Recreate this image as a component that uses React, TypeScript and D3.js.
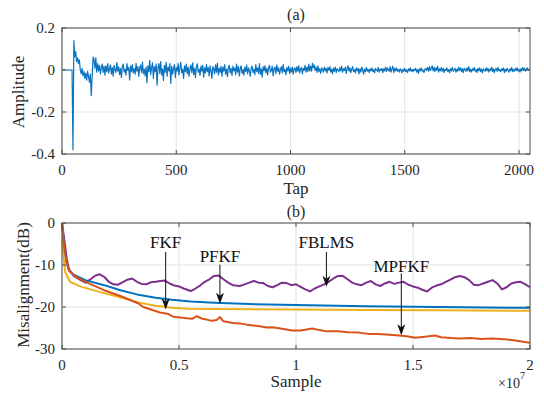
import React from "react";
import * as d3 from "d3";

// (a) impulse response, one value every 4 taps, in 1/1000 units
const tapStep = 4;
const amp = [
  0, 0, 0, 0, 0, 0, 0, 0, 0, 0, 0, 0, -380, 140, 62, 88,
  40, 58, 30, 48, 2, -18, 8, -28, -8, -40, -15, -48, -6, -30, -58, -20,
  -122, -30, 62, 50, 8, 58, -10, 30, -4, 22, -18, 12, 28, -12, 18, -25,
  20, -8, 30, -15, 5, 25, -20, 12, -30, 22, 2, -12, 35, -5, 15, -22,
  8, -35, 18, 28, -10, 4, -25, 30, -2, 12, -48, 20, -8, 26, -14, 6,
  -20, 32, -6, 16, -30, 10, 24, -12, 38, -18, 4, -28, 14, -60, 20, -8,
  46, -22, 10, 34, -40, 16, -8, 28, -72, 12, 30, -16, 40, -24, 6, -50,
  22, -10, 36, -30, 14, -4, 30, -64, 18, -20, 8, 26, -36, 12, -6, 32,
  -24, 10, 38, -14, 4, -40, 20, -8, 28, -18, 14, -30, 6, 24, -12, 34,
  -22, 8, -36, 16, 30, -10, 4, -26, 18, -6, 22, -34, 10, -14, 26, -8,
  12, -28, 20, -4, -40, 16, 6, -18, 24, -10, 32, -24, 8, -12, 18, -30,
  14, -6, 26, -20, 4, -32, 12, 22, -14, 8, -26, 18, -4, 10, -22, 28,
  -10, 16, -28, 6, 20, -16, 2, -24, 14, -8, 24, -18, 10, -6, -30, 12,
  18, -12, 4, -22, 26, -8, 10, -16, 30, -20, 6, -34, 16, -4, 20, -14,
  8, -24, 12, 22, -10, -2, 18, -28, 6, 14, -18, 24, -6, 10, -20, 4,
  16, -14, 26, -8, 2, -22, 12, -4, 18, -16, 8, -10, 14, -20, 6, 10,
  -12, 16, -6, 20, -14, 4, 12, -18, 8, -2, 22, -10, 14, -8, 28, -4,
  18, -6, 32, 10, 24, -2, 14, -12, 20, -8, 6, -16, 10, 2, -10, 14,
  -4, 8, -14, 12, -2, 16, -10, 4, -18, 10, -6, 14, -12, 6, 0, -8,
  12, -4, 18, -10, 6, -2, 14, -16, 8, 20, -6, 10, -12, 4, 16, -8,
  2, -14, 10, -4, 8, -18, 6, -10, 14, -2, -20, 4, -8, 12, -6, 2,
  -12, 6, -4, 10, -8, 2, -14, 8, 0, -6, 12, -10, 4, -2, 8, -12,
  6, -4, 14, -8, 10, 2, -6, 16, -10, 4, 18, -12, 8, -4, 10, -6,
  2, -10, 6, -2, -14, 4, -6, 8, -8, 0, -12, 6, -4, 10, -6, 2,
  -8, 4, -2, 8, -10, 2, -16, 6, -4, 10, -6, 0, -12, 4, 8, -2,
  12, -6, 16, -2, 8, 20, -4, 14, -8, 10, -2, 18, -10, 6, -4, 12,
  -6, 8, -12, 4, -2, 10, -8, 2, -14, 6, -4, 12, -6, 0, 8, -10,
  4, -6, 14, -2, 10, -8, 6, -12, 8, 2, -6, 10, -4, 16, -8, 4,
  -10, 6, -2, 12, -6, 2, -12, 8, -4, 10, -8, 4, -14, 6, 0, -6,
  10, -4, 8, -10, 4, -2, 14, -8, 6, -12, 2, 8, -6, 12, -4, 2,
  -8, 6, -2, 10, -12, 4, -6, 8, 0, -10, 6, -4, 12, -8, 2, -6,
  8, -2, 10, -6, 4, -10, 6, -4, 12, -2, 8, -6, 4, 10, -2, 6,
];
const tapTicks = [0, 500, 1000, 1500, 2000];
const ampTicks = [0.2, 0, -0.2, -0.4];

// (b) misalignment, sample in units of 1e7
const fblmsX = [
  0, 0.01, 0.02, 0.03, 0.05, 0.08, 0.1, 0.12, 0.14, 0.16, 0.18, 0.2, 0.22, 0.24, 0.26, 0.28,
  0.3, 0.32, 0.34, 0.36, 0.38, 0.4, 0.42, 0.44, 0.46, 0.48, 0.5, 0.52, 0.55, 0.57, 0.59, 0.61,
  0.63, 0.65, 0.67, 0.69, 0.71, 0.73, 0.76, 0.78, 0.8, 0.82, 0.84, 0.86, 0.88, 0.9, 0.92, 0.94,
  0.96, 0.98, 1.0, 1.02, 1.04, 1.06, 1.08, 1.1, 1.12, 1.14, 1.16, 1.18, 1.2, 1.22, 1.24, 1.26,
  1.28, 1.3, 1.32, 1.34, 1.36, 1.38, 1.4, 1.42, 1.44, 1.46, 1.48, 1.5, 1.52, 1.54, 1.56, 1.58,
  1.6, 1.62, 1.64, 1.66, 1.68, 1.7, 1.72, 1.74, 1.76, 1.78, 1.8, 1.82, 1.84, 1.86, 1.88, 1.9,
  1.92, 1.94, 1.96, 1.98, 2.0,
];
const fblmsY = [
  0, -4, -8.5, -11, -12.6, -13.6, -14.2, -13.5, -12.6, -12.2, -12.8, -14.0, -14.6, -14.7, -14.1, -13.5,
  -13.2, -14.0, -14.5, -14.6, -14.1, -14.0, -13.8, -13.7, -14.4, -14.9, -15.1, -15.6, -16.2, -15.6, -14.9, -14.0,
  -13.4, -12.6, -12.5, -13.4, -14.2, -14.8, -15.0, -14.6, -14.2, -13.8, -14.2, -14.3, -15.0, -15.3, -14.8, -14.2,
  -14.3, -14.8, -14.6, -15.2, -15.8, -16.3, -15.6, -15.1, -14.6, -14.0, -13.2, -12.6, -12.6, -13.4, -14.2, -14.6,
  -14.8, -14.2, -13.8, -14.6, -15.0, -14.4, -14.0, -14.5, -14.2, -14.0, -14.7, -15.1, -15.4, -15.9, -16.3, -15.4,
  -14.9, -14.6, -14.0, -13.5, -12.9, -12.6, -12.9, -13.6, -14.7, -14.8, -14.4, -14.0, -13.6, -14.4, -15.8, -15.3,
  -14.4, -14.1, -14.0, -14.6, -15.3,
];
const fkfX = [0, 0.005, 0.01, 0.02, 0.03, 0.05, 0.1, 0.18, 0.25, 0.32, 0.4, 0.47, 0.55, 0.65, 0.8, 1.0, 1.3, 1.6, 2.0];
const fkfY = [0, -3, -6, -9.5, -11.3, -12.3, -13.6, -14.8, -16, -17, -17.8, -18.3, -18.7, -19.0, -19.3, -19.5, -19.8, -20.0, -20.2];
const pfkfX = [0, 0.005, 0.013, 0.034, 0.084, 0.18, 0.255, 0.325, 0.4, 0.47, 0.54, 0.64, 1.0, 1.3, 1.6, 2.0];
const pfkfY = [-3.6, -7, -11.6, -14.0, -15.2, -16.7, -17.8, -18.9, -19.7, -20.2, -20.4, -20.5, -20.6, -20.7, -20.8, -20.9];
const mpfkfX = [
  0, 0.01, 0.02, 0.03, 0.05, 0.1, 0.18, 0.255, 0.325, 0.347, 0.37, 0.419, 0.45, 0.475, 0.505, 0.533,
  0.556, 0.576, 0.6, 0.618, 0.64, 0.661, 0.675, 0.69, 0.704, 0.73, 0.76, 0.79, 0.817, 0.845, 0.875, 0.9,
  0.94, 0.983, 1.02, 1.07, 1.1, 1.13, 1.18, 1.22, 1.27, 1.31, 1.35, 1.4, 1.44, 1.48, 1.51, 1.55,
  1.594, 1.62, 1.665, 1.7, 1.75, 1.79, 1.84, 1.89, 1.93, 1.964, 2.0,
];
const mpfkfY = [
  0, -6, -9.5, -11.3, -12.5, -14, -16, -17.5, -19.1, -20.0, -20.4, -21.3, -21.6, -22.3, -22.5, -22.7,
  -22.8, -22.2, -22.8, -23.0, -23.3, -23.1, -22.4, -23.4, -23.5, -23.8, -23.9, -24.2, -24.4, -24.6, -24.9, -24.8,
  -25.2, -25.6, -25.6, -25.1, -25.5, -25.8, -25.8, -26.0, -26.1, -26.4, -26.4, -26.6, -26.8, -27.0, -27.3, -27.1,
  -26.8, -27.2, -27.4, -27.5, -27.4, -27.6, -27.5, -27.7, -27.9, -28.2, -28.5,
];
const sampleTicks = [0, 0.5, 1, 1.5, 2];
const sampleTickLabels = ["0", "0.5", "1", "1.5", "2"];
const dbTicks = [0, -10, -20, -30];

const series = [
  { name: "FBLMS", xs: fblmsX, ys: fblmsY, color: "#7E2F8E" },
  { name: "FKF", xs: fkfX, ys: fkfY, color: "#0072BD" },
  { name: "PFKF", xs: pfkfX, ys: pfkfY, color: "#EDB120" },
  { name: "MPFKF", xs: mpfkfX, ys: mpfkfY, color: "#D95319" },
];

// arrow annotations (data coords of panel b)
const notes = [
  { label: "FKF", x: 0.443, textY: -6.0, from: -6.9, tip: -20.6 },
  { label: "PFKF", x: 0.675, textY: -9.2, from: -9.9, tip: -19.2 },
  { label: "FBLMS", x: 1.13, textY: -6.0, from: -6.9, tip: -15.2 },
  { label: "MPFKF", x: 1.45, textY: -11.6, from: -12.0, tip: -26.7 },
];

const font = "'Liberation Serif', 'Times New Roman', serif";
const axisColor = "#4d4d4d";
const gridColor = "#e3e3e3";
const textColor = "#262626";

const left = 62;
const right = 530;

const App = () => {
  const xa = d3.scaleLinear().domain([0, 2048]).range([left, right]);
  const ya = d3.scaleLinear().domain([-0.4, 0.2]).range([154, 28]);
  const xb = d3.scaleLinear().domain([0, 2]).range([left, right]);
  const yb = d3.scaleLinear().domain([-30, 0]).range([349, 223]);

  const lineA = d3
    .line<number>()
    .x((d, i) => xa(i * tapStep))
    .y((d) => ya(d / 1000));

  const grid = (
    x: d3.ScaleLinear<number, number>,
    y: d3.ScaleLinear<number, number>,
    xt: number[],
    yt: number[]
  ) => {
    const [x0, x1] = x.range();
    const [y0, y1] = y.range();
    return (
      <g>
        {xt.map((t) => (
          <line key={"gx" + t} x1={x(t)} x2={x(t)} y1={y0} y2={y1} stroke={gridColor} strokeWidth={1} />
        ))}
        {yt.map((t) => (
          <line key={"gy" + t} x1={x0} x2={x1} y1={y(t)} y2={y(t)} stroke={gridColor} strokeWidth={1} />
        ))}
      </g>
    );
  };

  const box = (
    x: d3.ScaleLinear<number, number>,
    y: d3.ScaleLinear<number, number>,
    xt: number[],
    yt: number[]
  ) => {
    const [x0, x1] = x.range();
    const [y0, y1] = y.range();
    return (
      <g stroke={axisColor} strokeWidth={1}>
        <rect x={x0} y={y1} width={x1 - x0} height={y0 - y1} fill="none" />
        {xt.map((t) => (
          <g key={"tx" + t}>
            <line x1={x(t)} x2={x(t)} y1={y0} y2={y0 - 4} />
            <line x1={x(t)} x2={x(t)} y1={y1} y2={y1 + 4} />
          </g>
        ))}
        {yt.map((t) => (
          <g key={"ty" + t}>
            <line x1={x0} x2={x0 + 4} y1={y(t)} y2={y(t)} />
            <line x1={x1} x2={x1 - 4} y1={y(t)} y2={y(t)} />
          </g>
        ))}
      </g>
    );
  };

  return (
    <svg
      width={544}
      height={396}
      style={{ position: "absolute", left: 0, top: 0, background: "#fff" }}
      fontFamily={font}
    >
      <rect width={544} height={396} fill="#fff" />

      {/* panel (a) */}
      {grid(xa, ya, tapTicks, ampTicks)}
      <path d={lineA(amp) || ""} fill="none" stroke="#0a74c0" strokeWidth={1.2} strokeLinejoin="round" />
      {box(xa, ya, tapTicks, ampTicks)}
      {tapTicks.map((t) => (
        <text key={t} x={xa(t)} y={175} textAnchor="middle" fontSize={15} fill={textColor}>
          {t}
        </text>
      ))}
      {ampTicks.map((t) => (
        <text key={t} x={55} y={ya(t) + 5} textAnchor="end" fontSize={15} fill={textColor}>
          {t === 0 ? "0" : t.toFixed(1)}
        </text>
      ))}
      <text x={296} y={20} textAnchor="middle" fontSize={16} fill={textColor}>(a)</text>
      <text x={296} y={194} textAnchor="middle" fontSize={17} fill={textColor}>Tap</text>
      <text transform="translate(24,92) rotate(-90)" textAnchor="middle" fontSize={17} fill={textColor}>
        Amplitude
      </text>

      {/* panel (b) */}
      {grid(xb, yb, sampleTicks, dbTicks)}
      {series.map((s) => (
        <path
          key={s.name}
          d={
            d3
              .line<number>()
              .x((d) => xb(d))
              .y((d, i) => yb(s.ys[i]))(s.xs) || ""
          }
          fill="none"
          stroke={s.color}
          strokeWidth={2}
          strokeLinejoin="round"
        />
      ))}
      {box(xb, yb, sampleTicks, dbTicks)}
      {sampleTicks.map((t, i) => (
        <text key={t} x={xb(t)} y={370} textAnchor="middle" fontSize={15} fill={textColor}>
          {sampleTickLabels[i]}
        </text>
      ))}
      {dbTicks.map((t) => (
        <text key={t} x={55} y={yb(t) + 5} textAnchor="end" fontSize={15} fill={textColor}>
          {t}
        </text>
      ))}
      <text x={296} y={217} textAnchor="middle" fontSize={16} fill={textColor}>(b)</text>
      <text x={296} y={387} textAnchor="middle" fontSize={17} fill={textColor}>Sample</text>
      <text x={498} y={388} fontSize={14} fill={textColor}>
        ×10<tspan dy={-9} fontSize={10}>7</tspan>
      </text>
      <text transform="translate(29,285) rotate(-90)" textAnchor="middle" fontSize={17} fill={textColor}>
        Misalignment(dB)
      </text>

      {notes.map((n) => {
        const x = xb(n.x);
        const y0 = yb(n.from);
        const yt = yb(n.tip);
        return (
          <g key={n.label}>
            <text x={x} y={yb(n.textY)} textAnchor="middle" fontSize={17} fill="#111">
              {n.label}
            </text>
            <line x1={x} x2={x} y1={y0} y2={yt - 6} stroke="#111" strokeWidth={1} />
            <path
              d={`M${x},${yt} L${x - 4},${yt - 11} L${x},${yt - 8} L${x + 4},${yt - 11} Z`}
              fill="#111"
            />
          </g>
        );
      })}
    </svg>
  );
};

export default App;
